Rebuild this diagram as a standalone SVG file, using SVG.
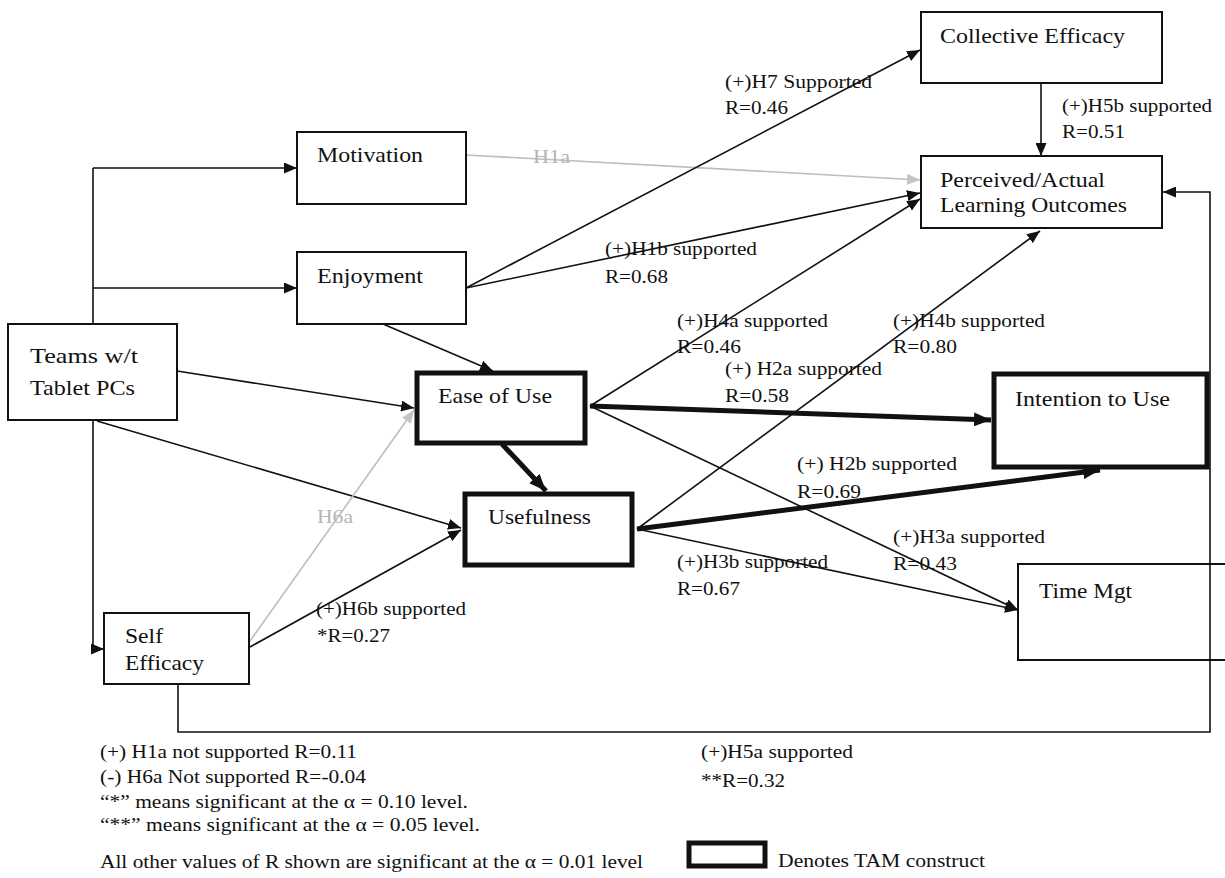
<svg xmlns="http://www.w3.org/2000/svg" width="1225" height="878" viewBox="0 0 1225 878">
<style>
text{font-family:"Liberation Serif","Times New Roman",serif;fill:#111}
.n{font-size:22px}
.l{font-size:18px}
.g{fill:#b5b5b5}
.box{fill:#fff;stroke:#111;stroke-width:2}
.tam{fill:#fff;stroke:#111;stroke-width:5}
.c{fill:none;stroke:#111;stroke-width:1.6}
.ct{fill:none;stroke:#111;stroke-width:5}
.cg{fill:none;stroke:#bdbdbd;stroke-width:1.6}
</style>
<defs>
<marker id="a" markerUnits="userSpaceOnUse" markerWidth="13" markerHeight="11" refX="13" refY="5.5" orient="auto"><path d="M0,0L13,5.5L0,11z" fill="#111"/></marker>
<marker id="at" markerUnits="userSpaceOnUse" markerWidth="17" markerHeight="14" refX="17" refY="7" orient="auto"><path d="M0,0L17,7L0,14z" fill="#111"/></marker>
<marker id="ag" markerUnits="userSpaceOnUse" markerWidth="13" markerHeight="11" refX="13" refY="5.5" orient="auto"><path d="M0,0L13,5.5L0,11z" fill="#c4c4c4"/></marker>
</defs>
<rect width="1225" height="878" fill="#fff"/>
<g id="connectors">
<path class="c" d="M93,168V649"/>
<path class="c" d="M93,168H297" marker-end="url(#a)"/>
<path class="c" d="M93,288H297" marker-end="url(#a)"/>
<path class="c" d="M93,649H104" marker-end="url(#a)"/>
<path class="c" d="M177,371L414,408" marker-end="url(#a)"/>
<path class="c" d="M97,421L461,528" marker-end="url(#a)"/>
<path class="c" d="M383,324L493,371" marker-end="url(#a)"/>
<path class="ct" d="M502,444L546,491" marker-end="url(#at)"/>
<path class="cg" d="M250,641L414,410" marker-end="url(#ag)"/>
<path class="c" d="M250,647L461,530" marker-end="url(#a)"/>
<path class="cg" d="M466,155L920,180" marker-end="url(#ag)"/>
<path class="c" d="M466,288L920,50" marker-end="url(#a)"/>
<path class="c" d="M466,288L920,193" marker-end="url(#a)"/>
<path class="c" d="M590,406L920,199" marker-end="url(#a)"/>
<path class="c" d="M637,529L1040,231" marker-end="url(#a)"/>
<path class="ct" d="M590,406L991,420" marker-end="url(#at)"/>
<path class="ct" d="M637,529L1100,470" marker-end="url(#at)"/>
<path class="c" d="M590,406L1018,610" marker-end="url(#a)"/>
<path class="c" d="M637,529L1018,610" marker-end="url(#a)"/>
<path class="c" d="M1041,84V156" marker-end="url(#a)"/>
<path class="c" d="M178,684V732H1210V192H1163" marker-end="url(#a)"/>
</g>
<g id="labels">
<text class="l" x="725" y="88" textLength="147" lengthAdjust="spacingAndGlyphs">(+)H7 Supported</text>
<text class="l" x="725" y="114" textLength="63" lengthAdjust="spacingAndGlyphs">R=0.46</text>
<text class="l g" x="533" y="163" textLength="37" lengthAdjust="spacingAndGlyphs">H1a</text>
<text class="l" x="605" y="255" textLength="152" lengthAdjust="spacingAndGlyphs">(+)H1b supported</text>
<text class="l" x="605" y="283" textLength="63" lengthAdjust="spacingAndGlyphs">R=0.68</text>
<text class="l" x="1062" y="112" textLength="150" lengthAdjust="spacingAndGlyphs">(+)H5b supported</text>
<text class="l" x="1062" y="138" textLength="63" lengthAdjust="spacingAndGlyphs">R=0.51</text>
<text class="l" x="677" y="327" textLength="151" lengthAdjust="spacingAndGlyphs">(+)H4a supported</text>
<text class="l" x="677" y="353" textLength="64" lengthAdjust="spacingAndGlyphs">R=0.46</text>
<text class="l" x="893" y="327" textLength="152" lengthAdjust="spacingAndGlyphs">(+)H4b supported</text>
<text class="l" x="893" y="353" textLength="64" lengthAdjust="spacingAndGlyphs">R=0.80</text>
<text class="l" x="725" y="375" textLength="157" lengthAdjust="spacingAndGlyphs">(+) H2a supported</text>
<text class="l" x="725" y="402" textLength="64" lengthAdjust="spacingAndGlyphs">R=0.58</text>
<text class="l" x="797" y="470" textLength="160" lengthAdjust="spacingAndGlyphs">(+) H2b supported</text>
<text class="l" x="797" y="498" textLength="64" lengthAdjust="spacingAndGlyphs">R=0.69</text>
<text class="l" x="893" y="543" textLength="152" lengthAdjust="spacingAndGlyphs">(+)H3a supported</text>
<text class="l" x="893" y="570" textLength="64" lengthAdjust="spacingAndGlyphs">R=0.43</text>
<text class="l" x="677" y="568" textLength="151" lengthAdjust="spacingAndGlyphs">(+)H3b supported</text>
<text class="l" x="677" y="595" textLength="63" lengthAdjust="spacingAndGlyphs">R=0.67</text>
<text class="l g" x="317" y="523" textLength="36" lengthAdjust="spacingAndGlyphs">H6a</text>
<text class="l" x="316" y="615" textLength="150" lengthAdjust="spacingAndGlyphs">(+)H6b supported</text>
<text class="l" x="317" y="642" textLength="73" lengthAdjust="spacingAndGlyphs">*R=0.27</text>
<text class="l" x="701" y="758" textLength="152" lengthAdjust="spacingAndGlyphs">(+)H5a supported</text>
<text class="l" x="701" y="787" textLength="84" lengthAdjust="spacingAndGlyphs">**R=0.32</text>
</g>
<g id="motivation"><rect class="box" x="297" y="132" width="169" height="72"/><text class="n" x="317" y="162" textLength="106" lengthAdjust="spacingAndGlyphs">Motivation</text></g>
<g id="enjoyment"><rect class="box" x="297" y="252" width="169" height="72"/><text class="n" x="317" y="283" textLength="106" lengthAdjust="spacingAndGlyphs">Enjoyment</text></g>
<g id="teams"><rect class="box" x="8" y="324" width="169" height="96"/><text class="n" x="30" y="363" textLength="108" lengthAdjust="spacingAndGlyphs">Teams  w/t</text><text class="n" x="30" y="395" textLength="105" lengthAdjust="spacingAndGlyphs">Tablet PCs</text></g>
<g id="self-efficacy"><rect class="box" x="104" y="613" width="145" height="71"/><text class="n" x="125" y="643" textLength="38" lengthAdjust="spacingAndGlyphs">Self</text><text class="n" x="125" y="670" textLength="79" lengthAdjust="spacingAndGlyphs">Efficacy</text></g>
<g id="ease-of-use"><rect class="tam" x="417" y="373" width="168" height="70"/><text class="n" x="438" y="403" textLength="114" lengthAdjust="spacingAndGlyphs">Ease of Use</text></g>
<g id="usefulness"><rect class="tam" x="465" y="494" width="167" height="71"/><text class="n" x="488" y="524" textLength="103" lengthAdjust="spacingAndGlyphs">Usefulness</text></g>
<g id="collective-efficacy"><rect class="box" x="921" y="12" width="241" height="71"/><text class="n" x="940" y="43" textLength="185" lengthAdjust="spacingAndGlyphs">Collective Efficacy</text></g>
<g id="outcomes"><rect class="box" x="921" y="156" width="241" height="72"/><text class="n" x="940" y="187" textLength="165" lengthAdjust="spacingAndGlyphs">Perceived/Actual</text><text class="n" x="940" y="212" textLength="187" lengthAdjust="spacingAndGlyphs">Learning Outcomes</text></g>
<g id="intention"><rect class="tam" x="994" y="374" width="213" height="93"/><text class="n" x="1015" y="406" textLength="155" lengthAdjust="spacingAndGlyphs">Intention to Use</text></g>
<g id="time-mgt"><rect fill="none" stroke="#111" stroke-width="2" x="1018" y="564" width="212" height="96"/><text class="n" x="1039" y="598" textLength="93" lengthAdjust="spacingAndGlyphs">Time Mgt</text></g>
<g id="legend">
<text class="l" x="100" y="758" textLength="257" lengthAdjust="spacingAndGlyphs">(+) H1a not supported R=0.11</text>
<text class="l" x="100" y="783" textLength="266" lengthAdjust="spacingAndGlyphs">(-) H6a Not supported R=-0.04</text>
<text class="l" x="100" y="808" textLength="368" lengthAdjust="spacingAndGlyphs">“*” means significant at the α = 0.10 level.</text>
<text class="l" x="100" y="831" textLength="380" lengthAdjust="spacingAndGlyphs">“**” means significant at the α = 0.05 level.</text>
<text class="l" x="100" y="868" textLength="543" lengthAdjust="spacingAndGlyphs">All other values of R shown are significant at the α = 0.01 level</text>
<rect class="tam" x="689" y="843" width="76" height="23"/>
<text class="l" x="778" y="867" textLength="207" lengthAdjust="spacingAndGlyphs">Denotes TAM construct</text>
</g>
</svg>
